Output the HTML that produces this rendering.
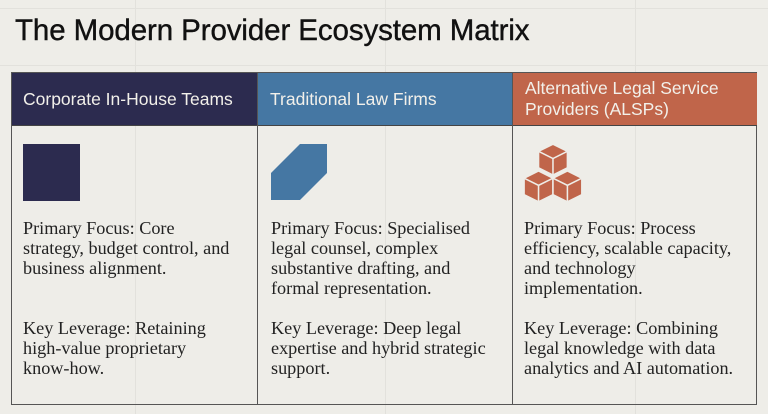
<!DOCTYPE html>
<html><head><style>
body{margin:0;width:768px;height:414px;background:#eeede8;position:relative;overflow:hidden;font-family:"Liberation Sans",sans-serif}
.g{position:absolute;background:#e2e1dc}
.t{position:absolute;left:15px;top:14px;font-size:29.5px;color:#111;letter-spacing:-0.1px;-webkit-text-stroke:0.4px #111}
.tbl{position:absolute;left:11px;top:72px;width:746px;height:333px;border:1px solid #555;box-sizing:border-box}
.h{position:absolute;top:0;height:53px;color:#f2f0ea;font-size:17.5px;box-sizing:border-box;border-bottom:1px solid #444}
.v{position:absolute;top:0;width:1px;height:100%;background:#555}
.p{position:absolute;font-family:"Liberation Serif",serif;font-size:18.2px;line-height:20px;color:#222}
</style></head><body>
<div class="g" style="left:135px;top:0;width:1px;height:414px"></div>
<div class="g" style="left:385px;top:0;width:1px;height:414px"></div>
<div class="g" style="left:635px;top:0;width:1px;height:414px"></div>
<div class="g" style="left:0;top:8px;width:768px;height:1px"></div>
<div class="g" style="left:0;top:65px;width:768px;height:1px"></div>
<div class="t">The Modern Provider Ecosystem Matrix</div>
<div class="tbl">
<div class="h" style="left:0;width:245px;background:#2c2b4f;padding:16px 0 0 11px">Corporate In-House Teams</div>
<div class="h" style="left:245px;width:256px;background:#4577a3;padding:16px 0 0 13px">Traditional Law Firms</div>
<div class="h" style="left:501px;width:244px;background:#c0654a;padding:5px 0 0 12px;line-height:21px">Alternative Legal Service<br>Providers (ALSPs)</div>
<div class="v" style="left:245px"></div>
<div class="v" style="left:500px"></div>
</div>
<div style="position:absolute;left:23px;top:144px;width:57px;height:57px;background:#2c2b4f"></div>
<svg style="position:absolute;left:270px;top:143px" width="60" height="60"><polygon points="30,1 57,1 57,30 30,57 1,57 1,30" fill="#4577a3"/></svg>
<svg style="position:absolute;left:521px;top:142px" width="66" height="62" viewBox="0 0 64 60">
<g fill="#c0654a" stroke="#eeede8" stroke-width="1.5" stroke-linejoin="round">
<polygon points="31,2 45,9 45,25 31,32 17,25 17,9"/>
<polygon points="17,28 31,35 31,51 17,58 3,51 3,35"/>
<polygon points="45,28 59,35 59,51 45,58 31,51 31,35"/>
</g>
<g stroke="#eeede8" stroke-width="1.5" fill="none">
<polyline points="17,9 31,16 45,9"/><line x1="31" y1="16" x2="31" y2="32"/>
<polyline points="3,35 17,42 31,35"/><line x1="17" y1="42" x2="17" y2="58"/>
<polyline points="31,35 45,42 59,35"/><line x1="45" y1="42" x2="45" y2="58"/>
</g></svg>
<div class="p" style="left:23px;top:218px">Primary Focus: Core<br>strategy, budget control, and<br>business alignment.</div>
<div class="p" style="left:23px;top:318px">Key Leverage: Retaining<br>high-value proprietary<br>know-how.</div>
<div class="p" style="left:271px;top:218px">Primary Focus: Specialised<br>legal counsel, complex<br>substantive drafting, and<br>formal representation.</div>
<div class="p" style="left:271px;top:318px">Key Leverage: Deep legal<br>expertise and hybrid strategic<br>support.</div>
<div class="p" style="left:524px;top:218px">Primary Focus: Process<br>efficiency, scalable capacity,<br>and technology<br>implementation.</div>
<div class="p" style="left:524px;top:318px">Key Leverage: Combining<br>legal knowledge with data<br>analytics and AI automation.</div>
</body></html>
